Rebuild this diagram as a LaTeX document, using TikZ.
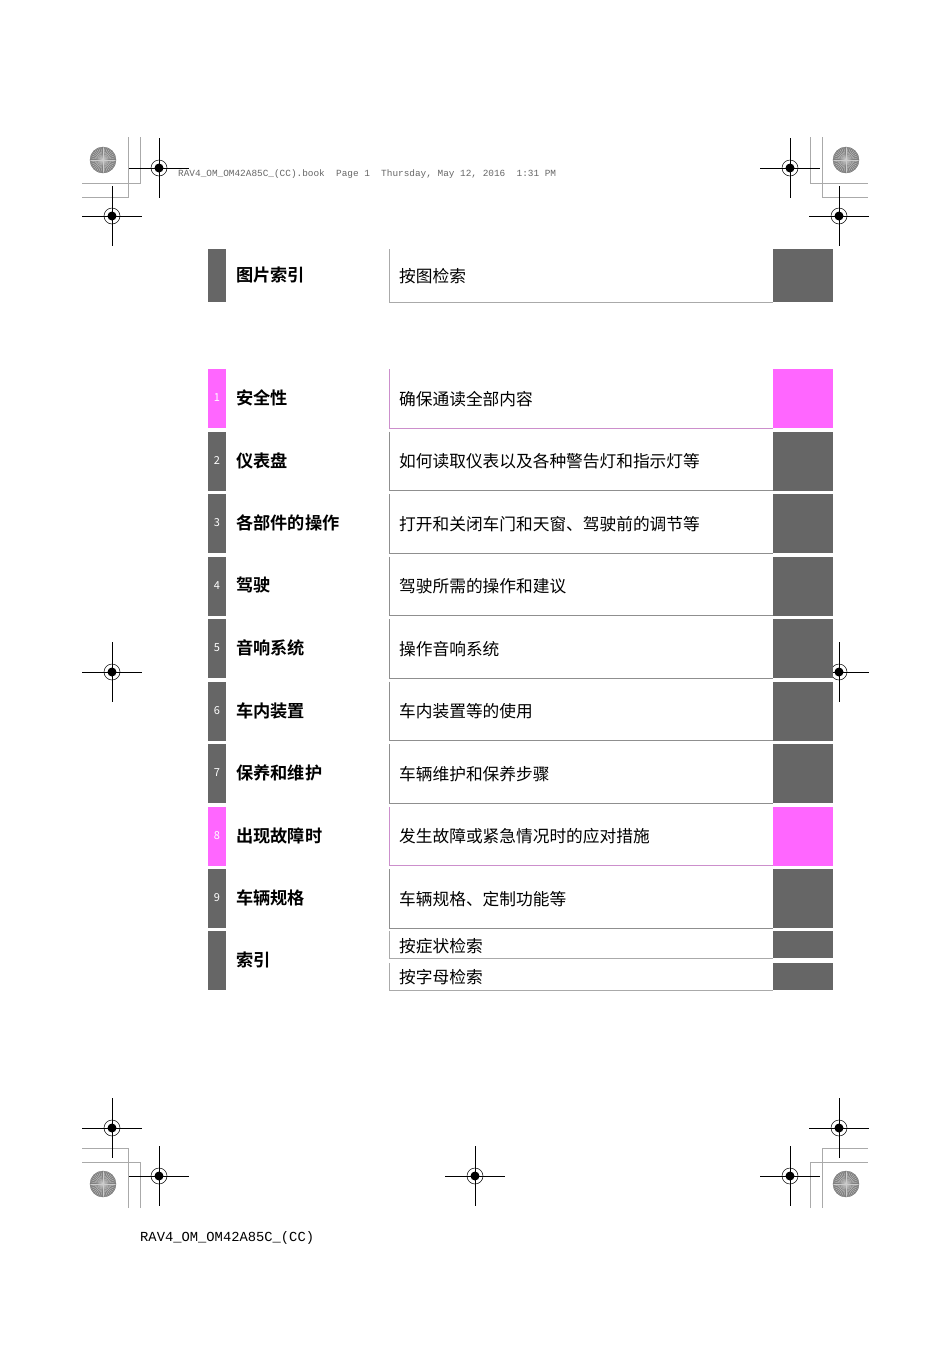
\documentclass[tikz,border=0pt]{standalone}
\usepackage{fontspec}
\setmainfont{Liberation Mono}
\newfontfamily\cjk{Noto Sans CJK SC}
\newfontfamily\cjkb{Noto Sans CJK SC Bold}
\definecolor{gbar}{HTML}{666666}
\definecolor{pk}{HTML}{FF66FF}
\definecolor{ln}{HTML}{AAAAAA}
\tikzset{
 cross/.pic={\draw[line width=0.5pt] (-30,0)--(30,0) (0,-30)--(0,30); \draw[line width=0.5pt] (0,0) circle[radius=8]; \fill (0,0) circle[radius=4.5];},
 sun/.pic={\fill[gray] (0,0) circle[radius=13]; \foreach \a in {0,10,...,350}{\draw[gray!40,line width=0.3pt] (0,0)--(\a:13);} \draw[gray!90!black,line width=0.4pt] (0,0) circle[radius=13];},
 chap/.style={font=\cjkb\fontsize{17.2}{17.2}\selectfont,anchor=west,inner sep=0},
 desc/.style={font=\cjk\fontsize{16.7}{16.7}\selectfont,anchor=west,inner sep=0},
 num/.style={font=\cjk\fontsize{11}{11}\selectfont,text=white,inner sep=0}
}
\begin{document}
\begin{tikzpicture}[x=1pt,y=-1pt]
\useasboundingbox (0,0) rectangle (950,1345);
% corner marks
\draw[ln,line width=0.6pt] (140,137)--(140,183)--(82,183) (128,137)--(128,197)--(82,197);
\draw[ln,line width=0.6pt] (810,137)--(810,183)--(868,183) (822,137)--(822,197)--(868,197);
\draw[ln,line width=0.6pt] (140,1208)--(140,1162)--(82,1162) (128,1208)--(128,1148)--(82,1148);
\draw[ln,line width=0.6pt] (810,1208)--(810,1162)--(868,1162) (822,1208)--(822,1148)--(868,1148);
\pic at (103,160) {sun}; \pic at (846,160) {sun}; \pic at (103,1184) {sun}; \pic at (846,1184) {sun};
\foreach \p in {(159,168),(112,216),(790,168),(839,216),(112,672),(839,672),(112,1128),(839,1128),(159,1176),(475,1176),(790,1176)} \pic at \p {cross};
\node[anchor=west,inner sep=0,font=\fontsize{9.4}{9.4}\selectfont,text=gray!80!black] (hdr) at (178,174) {RAV4\_OM\_OM42A85C\_(CC).book\ \ Page 1\ \ Thursday, May 12, 2016\ \ 1:31 PM};
\node[anchor=west,inner sep=0,font=\fontsize{13.8}{13.8}\selectfont] (ftr) at (140,1238) {RAV4\_OM\_OM42A85C\_(CC)};
% picture index row
\fill[gbar] (208,249) rectangle (226,302);
\fill[gbar] (773,249) rectangle (833,302);
\draw[ln,line width=0.8pt] (389,249)--(389,302)--(773,302);
\node[chap] (t0) at (236,275) {图片索引};
\node[desc] (d0) at (399,276) {按图检索};
% chapter rows
\foreach \i/\t/\d/\c in {1/安全性/确保通读全部内容/pk, 2/仪表盘/如何读取仪表以及各种警告灯和指示灯等/gbar, 3/各部件的操作/打开和关闭车门和天窗、驾驶前的调节等/gbar, 4/驾驶/驾驶所需的操作和建议/gbar, 5/音响系统/操作音响系统/gbar, 6/车内装置/车内装置等的使用/gbar, 7/保养和维护/车辆维护和保养步骤/gbar, 8/出现故障时/发生故障或紧急情况时的应对措施/pk, 9/车辆规格/车辆规格、定制功能等/gbar}{
 \pgfmathsetmacro\ya{369+(\i-1)*62.5}
 \pgfmathsetmacro\yb{\ya+59}
 \pgfmathsetmacro\ym{\ya+29}
 \fill[\c] (208,\ya) rectangle (226,\yb);
 \fill[\c] (773,\ya) rectangle (833,\yb);
 \draw[\c!40!ln,line width=0.8pt] (389,\ya)--(389,\yb)--(773,\yb);
 \node[num] (n\i) at (217,\ym) {\i};
 \node[chap] (t\i) at (236,\ym) {\t};
 \node[desc] (d\i) at (399,\ym+1) {\d};
}
% index row
\fill[gbar] (208,931) rectangle (226,990);
\fill[gbar] (773,931) rectangle (833,958);
\fill[gbar] (773,963) rectangle (833,990);
\draw[ln,line width=0.8pt] (389,931)--(389,958)--(773,958) (389,963)--(389,990)--(773,990);
\node[chap] (t10) at (236,960) {索引};
\node[desc] (d10a) at (399,946) {按症状检索};
\node[desc] (d10b) at (399,977) {按字母检索};
\end{tikzpicture}
\end{document}
